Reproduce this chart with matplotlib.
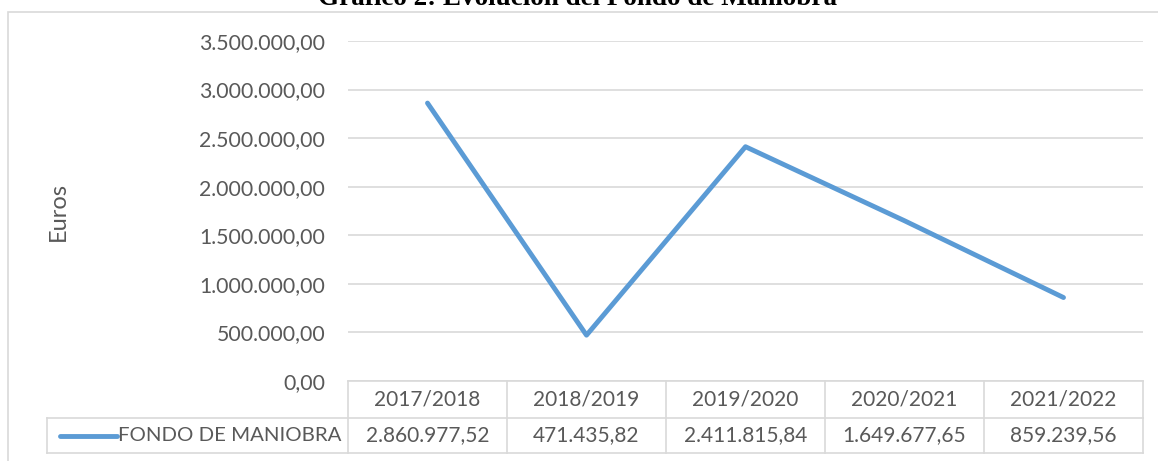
import matplotlib.pyplot as plt
from matplotlib.patches import Rectangle
from matplotlib.transforms import blended_transform_factory

# datos del gráfico
cursos = ['2017/2018', '2018/2019', '2019/2020', '2020/2021', '2021/2022']
fondo = [2860977.52, 471435.82, 2411815.84, 1649677.65, 859239.56]
serie = 'FONDO DE MANIOBRA'
y_ticks = [0, 500000, 1000000, 1500000, 2000000, 2500000, 3000000, 3500000]


def fmt_es(v):
    s = f'{v:,.2f}'
    return s.replace(',', 'X').replace('.', ',').replace('X', '.')


W, H = 1158, 461
plt.rcParams['font.family'] = ['Lato', 'DejaVu Sans']
gris = '#595959'
linea = '#d9d9d9'
azul = '#5b9bd5'
fs = 15

fig = plt.figure(figsize=(W / 100, H / 100), dpi=100)
fig.patches.append(Rectangle((8 / W, -0.1), 1.2, 1 - 12 / H + 0.1, transform=fig.transFigure,
                             fill=False, edgecolor=linea, linewidth=1.2))
fig.text(578 / W, 1 - 5 / H, 'Gráfico 2: Evolución del Fondo de Maniobra', ha='center', va='baseline',
         fontsize=19.5, fontweight='bold', family='Liberation Serif')

ax = fig.add_axes([348 / W, 1 - 381 / H, (1143 - 348) / W, (381 - 41) / H])
x = list(range(len(cursos)))
ax.plot(x, fondo, color=azul, linewidth=3.5, solid_capstyle='round', zorder=3)
ax.set_xlim(-0.5, len(cursos) - 0.5)
ax.set_ylim(0, 3500000)
ax.set_yticks(y_ticks)
ax.set_yticklabels([fmt_es(v) for v in y_ticks], color=gris, fontsize=15.3)
ax.tick_params(axis='y', length=0, pad=16.5)
ax.set_xticks([])
ax.grid(axis='y', color=linea, linewidth=1.2)
for s in ax.spines.values():
    s.set_visible(False)
ax.set_ylabel('Euros', color=gris, fontsize=17)
ax.yaxis.set_label_coords((69 - 348) / 795, 0.5)

# tabla de datos bajo el eje
tr = blended_transform_factory(ax.transData, ax.transAxes)
h1 = 37 / 340
h2 = 35 / 340
x_leg = -0.5 - (348 - 47) / 159
kw = dict(transform=tr, clip_on=False, color=linea, linewidth=1.2)
ax.plot([-0.5, 4.5], [0, 0], **kw)
ax.plot([x_leg, 4.5], [-h1, -h1], **kw)
ax.plot([x_leg, 4.5], [-h1 - h2, -h1 - h2], **kw)
ax.plot([x_leg, x_leg], [-h1, -h1 - h2], **kw)
for i in range(len(cursos) + 1):
    ax.plot([i - 0.5, i - 0.5], [0, -h1 - h2], **kw)
for i, c in enumerate(cursos):
    ax.text(i, -h1 / 2, c, transform=tr, ha='center', va='center', color=gris, fontsize=fs)
    ax.text(i, -h1 - h2 / 2, fmt_es(fondo[i]), transform=tr, ha='center', va='center',
            color=gris, fontsize=fs)
ax.plot([x_leg + 13 / 159, x_leg + 70 / 159], [-h1 - h2 / 2] * 2, transform=tr, clip_on=False,
        color=azul, linewidth=3.5, solid_capstyle='round')
ax.text(x_leg + 71 / 159, -h1 - h2 / 2, serie, transform=tr, ha='left', va='center',
        color=gris, fontsize=14.7)

fig.savefig('out.png', dpi=100)
